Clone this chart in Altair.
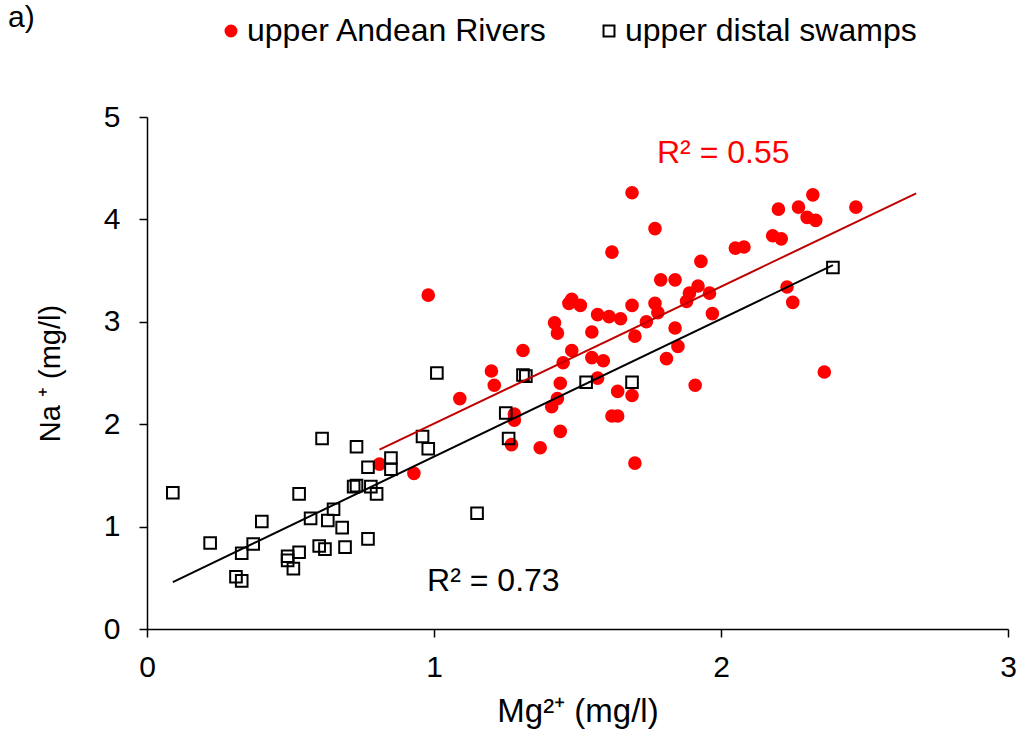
import altair as alt
import pandas as pd

series_names = ["upper Andean Rivers", "upper distal swamps"]

andean_mg = [0.81, 0.93, 0.98, 1.09, 1.20, 1.21, 1.27, 1.28, 1.28, 1.31, 1.37, 1.41, 1.42, 1.43,
             1.43, 1.44, 1.44, 1.45, 1.47, 1.48, 1.48, 1.51, 1.55, 1.55, 1.57, 1.57, 1.59, 1.61,
             1.62, 1.62, 1.64, 1.64, 1.65, 1.69, 1.69, 1.69, 1.70, 1.70, 1.74, 1.77, 1.77, 1.78,
             1.79, 1.81, 1.84, 1.84, 1.85, 1.88, 1.89, 1.91, 1.92, 1.93, 1.96, 1.97, 2.05, 2.08,
             2.18, 2.20, 2.21, 2.23, 2.25, 2.27, 2.30, 2.32, 2.33, 2.36, 2.47]
andean_na = [1.61, 1.52, 3.26, 2.25, 2.52, 2.38, 1.80, 2.04, 2.10, 2.72, 1.77, 2.17, 2.99, 2.89,
             2.25, 2.40, 1.93, 2.60, 3.18, 2.72, 3.22, 3.16, 2.65, 2.90, 2.45, 3.07, 2.62, 3.05,
             3.68, 2.08, 2.08, 2.32, 3.03, 3.16, 2.28, 4.26, 2.86, 1.62, 3.00, 3.91, 3.18, 3.09,
             3.41, 2.64, 3.41, 2.94, 2.76, 3.20, 3.28, 2.38, 3.35, 3.59, 3.28, 3.08, 3.72, 3.73,
             3.84, 4.10, 3.81, 3.34, 3.19, 4.12, 4.02, 4.24, 3.99, 2.51, 4.12]

swamp_mg = [0.09, 0.22, 0.31, 0.33, 0.33, 0.37, 0.40, 0.49, 0.49, 0.51, 0.53, 0.53, 0.57, 0.60,
            0.62, 0.61, 0.63, 0.65, 0.68, 0.69, 0.72, 0.73, 0.73, 0.77, 0.78, 0.77, 0.80, 0.85,
            0.85, 0.96, 0.98, 1.01, 1.15, 1.25, 1.26, 1.31, 1.32, 1.53, 1.69, 2.39]
swamp_na = [1.33, 0.84, 0.51, 0.47, 0.74, 0.83, 1.05, 0.71, 0.67, 0.59, 1.32, 0.75, 1.08, 0.81,
            0.78, 1.86, 1.06, 1.17, 0.99, 0.80, 1.39, 1.40, 1.78, 1.58, 1.39, 0.88, 1.32, 1.56,
            1.67, 1.88, 1.76, 2.50, 1.13, 2.11, 1.86, 2.48, 2.47, 2.41, 2.41, 3.53]

# trendline forecast end for the Andean series
andean_trend_end = 2.68

r2_labels = ["R² = 0.55", "R² = 0.73"]
r2_mg = [1.777, 0.976]
r2_na = [4.65, 0.47]

x_ticks = [0, 1, 2, 3]
y_ticks = [0, 1, 2, 3, 4, 5]

FONT = "Liberation Sans"
FS = 30
W, H = 861, 512

df = pd.concat([
    pd.DataFrame({"mg": andean_mg, "na": andean_na, "series": series_names[0]}),
    pd.DataFrame({"mg": swamp_mg, "na": swamp_na, "series": series_names[1]}),
], ignore_index=True)

x_enc = alt.X("mg:Q", scale=alt.Scale(domain=[0, 3], nice=False, zero=False),
              axis=alt.Axis(values=x_ticks, format="d", title="Mg²⁺ (mg/l)", labelPadding=15,
                            labelFlush=False, titleFontSize=33,
                            titleX=W / 2, titleY=82, titleBaseline="middle", titleAlign="center"))
y_enc = alt.Y("na:Q", scale=alt.Scale(domain=[0, 5], nice=False, zero=False),
              axis=alt.Axis(values=y_ticks, format="d", title="Na ⁺ (mg/l)", labelPadding=19,
                            labelFlush=False, titleFontSize=29,
                            titleX=-97, titleY=H / 2, titleAngle=-90,
                            titleBaseline="middle", titleAlign="center"))

leg = alt.Legend(title=None, orient="none", legendX=68, legendY=-102, direction="horizontal",
                 labelLimit=0)

base = alt.Chart(df)

points = base.mark_point(size=135, strokeWidth=2, opacity=1, fillOpacity=1).encode(
    x=x_enc, y=y_enc,
    shape=alt.Shape("series:N", scale=alt.Scale(domain=series_names, range=["circle", "square"]), legend=leg),
    fill=alt.Fill("series:N", scale=alt.Scale(domain=series_names, range=["#FF0000", "transparent"]), legend=leg),
    stroke=alt.Stroke("series:N", scale=alt.Scale(domain=series_names, range=["#FF0000", "#000000"]), legend=leg),
)

red_line = base.transform_filter(alt.datum.series == series_names[0]).transform_regression(
    "mg", "na", extent=[min(andean_mg), andean_trend_end]
).mark_line(color="#C00000", strokeWidth=2).encode(x="mg:Q", y="na:Q")

black_line = base.transform_filter(alt.datum.series == series_names[1]).transform_regression(
    "mg", "na"
).mark_line(color="#000000", strokeWidth=2).encode(x="mg:Q", y="na:Q")

lab_df = pd.DataFrame({"mg": r2_mg, "na": r2_na, "txt": r2_labels, "c": ["#FF0000", "#000000"]})
r2_text = alt.Chart(lab_df).mark_text(align="left", baseline="middle", font=FONT, fontSize=32).encode(
    x="mg:Q", y="na:Q", text="txt:N", color=alt.Color("c:N", scale=None)
)

panel_df = pd.DataFrame({"t": ["a)"]})
panel = alt.Chart(panel_df).mark_text(align="left", baseline="middle", font=FONT, fontSize=FS,
                                       color="black").encode(
    x=alt.value(-139), y=alt.value(-99), text="t:N"
)

chart = alt.layer(points, red_line, black_line, r2_text, panel).properties(
    width=W, height=H,
    padding={"left": 147, "top": 117, "right": 13, "bottom": 105},
    autosize=alt.AutoSizeParams(type="none"),
).configure_view(stroke=None).configure_axis(
    grid=False, domainColor="black", tickColor="black", labelColor="black", titleColor="black",
    labelFont=FONT, titleFont=FONT, labelFontSize=FS, titleFontSize=FS, titleFontWeight="normal",
    tickSize=8, domainWidth=1.5, tickWidth=1.5,
).configure_legend(
    labelFont=FONT, labelFontSize=32, labelColor="black", symbolSize=120, symbolStrokeWidth=2,
    labelOffset=0, columnPadding=45, padding=0, labelLimit=0,
)

chart.save("out.html", embed_options={"renderer": "svg", "actions": False})
